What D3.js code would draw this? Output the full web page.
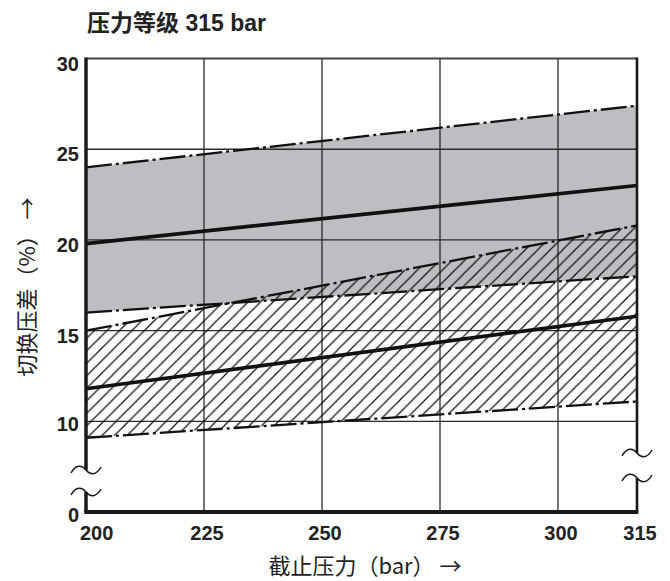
<!DOCTYPE html>
<html>
<head>
<meta charset="utf-8">
<script src="https://cdn.jsdelivr.net/npm/d3@7"></script>
<style>
  body { margin: 0; background: #fff; }
</style>
</head>
<body>
<div id="chart"></div>
<script>
// pressure (bar) at the two ends of every band
var xEnds = [200, 315]

// grey band (dash-dot upper / solid mid / dash-dot lower), % values
var greyUpper = [24.0, 27.4]
var greyMid = [19.8, 23.0]
var greyLower = [16.0, 18.0]

// hatched band
var hatchUpper = [15.0, 20.8]
var hatchMid = [11.8, 15.8]
var hatchLower = [9.1, 11.1]

var xTicks = [200, 225, 250, 275, 300, 315]
var xGrid = [225, 250, 275, 300]
var yTicks = [0, 10, 15, 20, 25, 30]
var yGrid = [10, 15, 20, 25]

var W = 670, H = 581

var svg = d3.select('#chart')
    .append('svg')
        .attr('width', W)
        .attr('height', H)
        .attr('font-family', '"Liberation Sans", "Noto Sans CJK SC", sans-serif')

// x axis is not quite linear at the 315 end, y axis is broken below ~6
var x = d3.scaleLinear()
    .domain([200, 300, 315])
    .range([86, 558, 637])
var y = d3.scaleLinear()
    .domain([0, 6, 30])
    .range([512, 494, 58.5])

var defs = svg.append('defs')
defs.append('pattern')
    .attr('id', 'hatch')
    .attr('patternUnits', 'userSpaceOnUse')
    .attr('width', 12.5)
    .attr('height', 12.5)
  .append('path')
    .attr('d', 'M0,12.5L12.5,0M-3,3L3,-3M9.5,15.5L15.5,9.5')
    .attr('stroke', '#111')
    .attr('stroke-width', 1.2)

function toPts(vals) {
    return vals.map(function(v, i) { return [xEnds[i], v] })
}

var area = d3.area()
    .x(function(d) { return x(d[0]) })
    .y0(function(d) { return y(d[1]) })
    .y1(function(d) { return y(d[2]) })

var line = d3.line()
    .x(function(d) { return x(d[0]) })
    .y(function(d) { return y(d[1]) })

// grey band fill
svg.append('path')
    .datum(xEnds.map(function(v, i) { return [v, greyLower[i], greyUpper[i]] }))
    .attr('fill', '#bdbec1')
    .attr('d', area)

// grid
svg.append('g')
    .selectAll('line')
    .data(xGrid)
    .join('line')
      .attr('x1', function(d) { return x(d) })
      .attr('x2', function(d) { return x(d) })
      .attr('y1', y(30))
      .attr('y2', y(0))
      .attr('stroke', '#2a2a2a')
      .attr('stroke-width', 1.3)

svg.append('g')
    .selectAll('line')
    .data(yGrid)
    .join('line')
      .attr('x1', x(200))
      .attr('x2', x(315))
      .attr('y1', function(d) { return y(d) })
      .attr('y2', function(d) { return y(d) })
      .attr('stroke', '#2a2a2a')
      .attr('stroke-width', 1.3)

// top border
svg.append('line')
    .attr('x1', x(200)).attr('x2', x(315))
    .attr('y1', y(30)).attr('y2', y(30))
    .attr('stroke', '#444')
    .attr('stroke-width', 2)

// hatched band
svg.append('path')
    .datum(xEnds.map(function(v, i) { return [v, hatchLower[i], hatchUpper[i]] }))
    .attr('fill', 'url(#hatch)')
    .attr('d', area)

// band boundaries
var dashed = [greyUpper, greyLower, hatchUpper, hatchLower]
dashed.forEach(function(vals) {
    svg.append('path')
        .datum(toPts(vals))
        .attr('fill', 'none')
        .attr('stroke', '#111')
        .attr('stroke-width', 2.3)
        .attr('stroke-dasharray', '26,4,3,4')
        .attr('d', line)
})

var solid = [greyMid, hatchMid]
solid.forEach(function(vals) {
    svg.append('path')
        .datum(toPts(vals))
        .attr('fill', 'none')
        .attr('stroke', '#111')
        .attr('stroke-width', 3.6)
        .attr('d', line)
})

// frame: left and right with break gaps, bottom thick
var brkL = [470, 492], brkR = [453, 478]
var frame = svg.append('g').attr('stroke', '#1a1a1a').attr('fill', 'none')
frame.append('line')
    .attr('x1', x(200)).attr('x2', x(200))
    .attr('y1', y(30) - 1).attr('y2', brkL[0])
    .attr('stroke-width', 3.5)
frame.append('line')
    .attr('x1', x(200)).attr('x2', x(200))
    .attr('y1', brkL[1]).attr('y2', y(0))
    .attr('stroke-width', 3.5)
frame.append('line')
    .attr('x1', x(315)).attr('x2', x(315))
    .attr('y1', y(30) - 1).attr('y2', brkR[0])
    .attr('stroke-width', 2.6)
frame.append('line')
    .attr('x1', x(315)).attr('x2', x(315))
    .attr('y1', brkR[1]).attr('y2', y(0))
    .attr('stroke-width', 2.6)
frame.append('line')
    .attr('x1', x(200) - 1.7).attr('x2', x(315) + 1.3)
    .attr('y1', y(0)).attr('y2', y(0))
    .attr('stroke-width', 4)

// break marks
var tilde = 'M-15,3C-10,-6 -4,-5 0,0C4,5 10,6 15,-3'
brkL.forEach(function(py) {
    frame.append('path')
        .attr('transform', 'translate(' + x(200) + ',' + py + ')')
        .attr('d', tilde)
        .attr('stroke-width', 1.5)
})
brkR.forEach(function(py) {
    frame.append('path')
        .attr('transform', 'translate(' + x(315) + ',' + py + ')')
        .attr('d', tilde)
        .attr('stroke-width', 1.5)
})

// tick labels
svg.append('g')
    .selectAll('text')
    .data(yTicks)
    .join('text')
      .attr('x', 79)
      .attr('y', function(d) { return y(d) })
      .attr('dy', d => d < 15 ? 10 : 12)
      .attr('text-anchor', 'end')
      .attr('font-size', '20px')
      .attr('font-weight', 'bold')
      .attr('fill', '#222')
      .text(function(d) { return d })

svg.append('g')
    .selectAll('text')
    .data(xTicks)
    .join('text')
      .attr('x', function(d, i) { return i == 0 ? x(d) - 6 : x(d) + 3 })
      .attr('y', 540)
      .attr('text-anchor', function(d, i) { return i == 0 ? 'start' : 'middle' })
      .attr('font-size', '20px')
      .attr('font-weight', 'bold')
      .attr('fill', '#222')
      .text(function(d) { return d })

// titles
svg.append('text')
    .attr('x', 87)
    .attr('y', 31)
    .attr('font-size', '23px')
    .attr('font-weight', 'bold')
    .attr('fill', '#222')
    .text('压力等级 315 bar')

svg.append('text')
    .attr('x', 365)
    .attr('y', 574)
    .attr('text-anchor', 'middle')
    .attr('font-family', '"Noto Sans CJK SC", sans-serif')
    .attr('font-size', '22px')
    .attr('fill', '#222')
    .text('截止压力（bar） →')

svg.append('text')
    .attr('transform', 'translate(35,287) rotate(-90)')
    .attr('text-anchor', 'middle')
    .attr('font-family', '"Noto Sans CJK SC", sans-serif')
    .attr('font-size', '22px')
    .attr('fill', '#222')
    .text('切换压差（%） →')
</script>
</body>
</html>
